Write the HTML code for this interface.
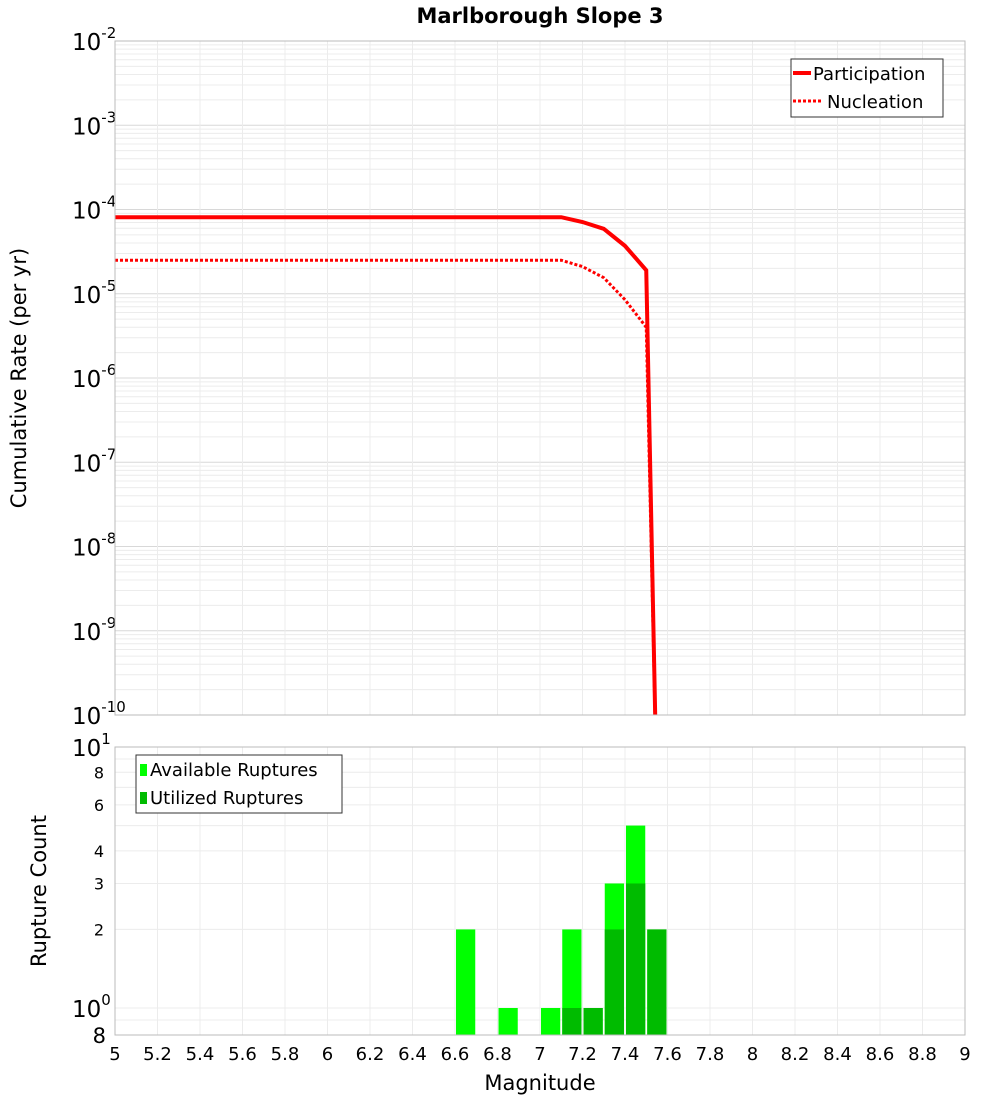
<!DOCTYPE html>
<html><head><meta charset="utf-8"><style>
body{margin:0;background:#fff;font-family:"Liberation Sans","DejaVu Sans",sans-serif;}
svg text{font-family:"DejaVu Sans","Liberation Sans",sans-serif;}
</style></head><body>
<svg id="c" width="1000" height="1100" xmlns="http://www.w3.org/2000/svg">
<text x="540" y="23" text-anchor="middle" font-size="21" font-weight="bold">Marlborough Slope 3</text>
<text transform="translate(26,378) rotate(-90)" text-anchor="middle" font-size="21">Cumulative Rate (per yr)</text>
<text transform="translate(46,891) rotate(-90)" text-anchor="middle" font-size="21">Rupture Count</text>
<text x="540" y="1090" text-anchor="middle" font-size="21">Magnitude</text>
<g id="topG"></g><g id="botG"></g>
</svg>
<script>
const mags=[5.0,5.1,5.2,5.3,5.4,5.5,5.6,5.7,5.8,5.9,6.0,6.1,6.2,6.3,6.4,6.5,6.6,6.7,6.8,6.9,7.0,7.1,7.2,7.3,7.4,7.5,7.55];
const participation=[8.1e-5,8.1e-5,8.1e-5,8.1e-5,8.1e-5,8.1e-5,8.1e-5,8.1e-5,8.1e-5,8.1e-5,8.1e-5,8.1e-5,8.1e-5,8.1e-5,8.1e-5,8.1e-5,8.1e-5,8.1e-5,8.1e-5,8.1e-5,8.1e-5,8.1e-5,7.1e-5,5.9e-5,3.7e-5,1.9e-5,1e-11];
const nucleation=[2.5e-5,2.5e-5,2.5e-5,2.5e-5,2.5e-5,2.5e-5,2.5e-5,2.5e-5,2.5e-5,2.5e-5,2.5e-5,2.5e-5,2.5e-5,2.5e-5,2.5e-5,2.5e-5,2.5e-5,2.5e-5,2.5e-5,2.5e-5,2.5e-5,2.5e-5,2.1e-5,1.55e-5,8.5e-6,4e-6,1e-11];
const binCenters=[6.65,6.85,7.05,7.15,7.25,7.35,7.45,7.55];
const available=[2,1,1,2,1,3,5,2];
const utilized=[0,0,0,1,1,2,3,2];
const xTicks=[5,5.2,5.4,5.6,5.8,6,6.2,6.4,6.6,6.8,7,7.2,7.4,7.6,7.8,8,8.2,8.4,8.6,8.8,9];
const topExps=[-2,-3,-4,-5,-6,-7,-8,-9,-10];
const botTicks=[8,6,4,3,2];

const NS="http://www.w3.org/2000/svg";
const L=115,R=965,T1=41,B1=715,T2=747,B2=1035;
const X=m=>L+(m-5)/4*(R-L);
const Y1=v=>T1+(-2-Math.log10(v))*(B1-T1)/8;
const Y2=v=>1008-Math.log10(v)*261;
function mk(p,tag,a){const e=document.createElementNS(NS,tag);for(const k in a)e.setAttribute(k,a[k]);p.appendChild(e);return e;}
const topG=document.getElementById('topG'),botG=document.getElementById('botG');
mk(topG,'rect',{x:L,y:T1,width:R-L,height:B1-T1,fill:'#fff'});
const cp=mk(topG,'clipPath',{id:'cp1'});
mk(cp,'rect',{x:L,y:T1,width:R-L,height:B1-T1});
for(let d=-10;d<-2;d++)for(let k=1;k<10;k++){const y=Y1(k*Math.pow(10,d));
 const g=mk(topG,'line',{x1:L,x2:R,y1:y,y2:y,stroke:k==1?'#d8d8d8':'#ececec','stroke-width':1});
 
 }
xTicks.forEach(t=>{const x=X(t);mk(topG,'line',{x1:x,x2:x,y1:T1,y2:B1,stroke:'#ececec'});mk(botG,'line',{x1:x,x2:x,y1:T2,y2:B2,stroke:'#ececec'});});
topExps.forEach(e=>{const y=Y1(Math.pow(10,e));const t=mk(topG,'text',{x:72,y:y+9,'font-size':23});
 
 
 t.textContent='10';const s=mk(t,'tspan',{dy:-12,'font-size':15});s.textContent=String(e);});
function line(arr,dash,name){const pts=mags.map((m,i)=>X(m)+','+Y1(arr[i])).join(' ');
 const p=mk(topG,'polyline',{points:pts,fill:'none',stroke:'#ff0000','stroke-width':dash?3:4,'stroke-dasharray':dash?'3,2':'none','clip-path':'url(#cp1)'});
 
 }
line(participation,false,'participation-line');line(nucleation,true,'nucleation-line');
mk(topG,'rect',{x:L,y:T1,width:R-L,height:B1-T1,fill:'none',stroke:'#bbb'});
const lg=mk(topG,'g',{});


mk(lg,'rect',{x:791,y:59,width:152,height:58,fill:'#fff',stroke:'#333'});
mk(lg,'line',{x1:793,x2:811,y1:73,y2:73,stroke:'#f00','stroke-width':4});
mk(lg,'line',{x1:793,x2:823,y1:101,y2:101,stroke:'#f00','stroke-width':3,'stroke-dasharray':'3,2'});
mk(lg,'text',{x:813,y:80,'font-size':18}).textContent='Participation';
mk(lg,'text',{x:827,y:108,'font-size':18}).textContent='Nucleation';
for(let v=1;v<=10;v++){const y=Y2(v);mk(botG,'line',{x1:L,x2:R,y1:y,y2:y,stroke:'#ececec'});}
mk(botG,'line',{x1:L,x2:R,y1:Y2(0.9),y2:Y2(0.9),stroke:'#ececec'});
const bw=0.1*(R-L)/4;
binCenters.forEach((c,i)=>{const x=X(c)-bw/2+1;
 if(available[i]>0){const r=mk(botG,'rect',{x:x,y:Y2(available[i]),width:bw-2,height:B2-Y2(available[i]),fill:'#00ff00'});
 
 }
 if(utilized[i]>0){const r=mk(botG,'rect',{x:x,y:Y2(utilized[i]),width:bw-2,height:B2-Y2(utilized[i]),fill:'#00bb00'});
 
 }});
mk(botG,'rect',{x:L,y:T2,width:R-L,height:B2-T2,fill:'none',stroke:'#bbb'});
[[1,747],[0,1008]].forEach(([e,y])=>{const t=mk(botG,'text',{x:72,y:y+9,'font-size':23});
 
 
 t.textContent='10';const s=mk(t,'tspan',{dy:-12,'font-size':15});s.textContent=String(e);});
botTicks.forEach(v=>{const t=mk(botG,'text',{x:104,y:Y2(v)+6,'font-size':16,'text-anchor':'end'});t.textContent=v;
 
 });
{const t=mk(botG,'text',{x:106,y:1043,'font-size':21,'text-anchor':'end'});t.textContent='8';}
xTicks.forEach(v=>{const t=mk(botG,'text',{x:X(v),y:1060,'font-size':18,'text-anchor':'middle'});t.textContent=String(v);
 
 });
const bl=mk(botG,'g',{});


mk(bl,'rect',{x:136,y:755,width:206,height:58,fill:'#fff',stroke:'#333'});
mk(bl,'rect',{x:140,y:764,width:7,height:12,fill:'#00ff00'});
mk(bl,'rect',{x:140,y:792,width:7,height:12,fill:'#00bb00'});
mk(bl,'text',{x:150,y:776,'font-size':18}).textContent='Available Ruptures';
mk(bl,'text',{x:150,y:804,'font-size':18}).textContent='Utilized Ruptures';
</script>
</body></html>
